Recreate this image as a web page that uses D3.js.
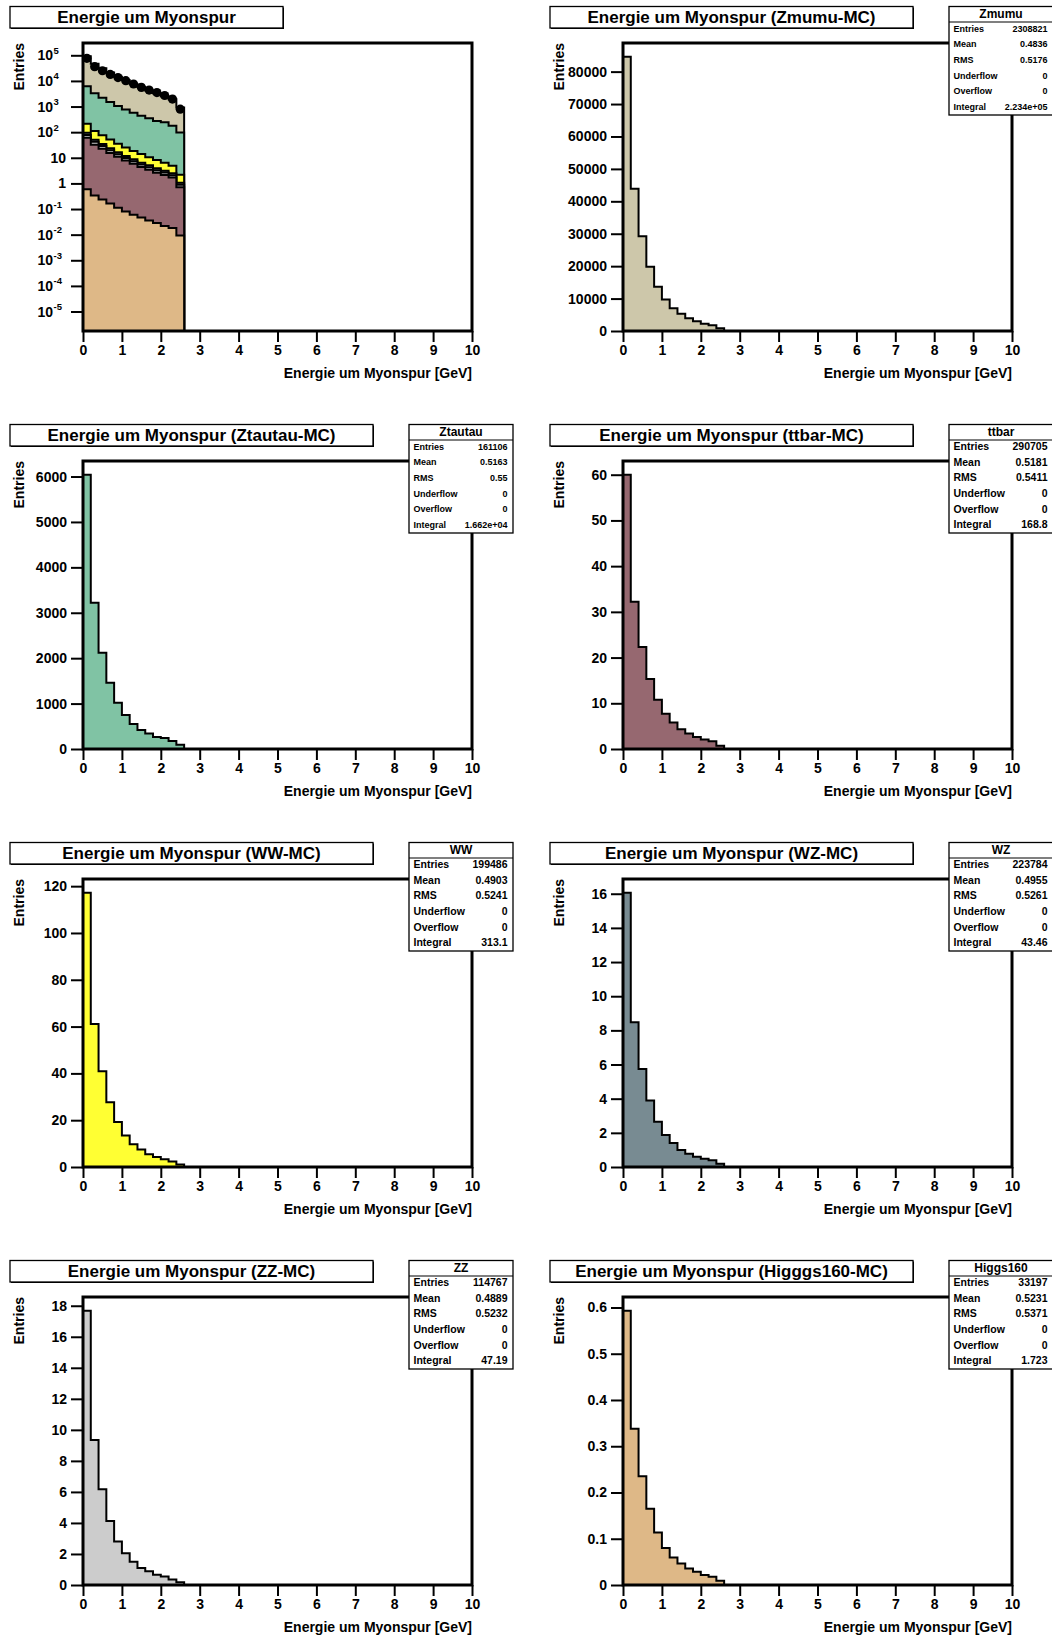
<!DOCTYPE html>
<html><head><meta charset="utf-8">
<script src="https://cdn.jsdelivr.net/npm/d3@7"></script>
<style>
body{margin:0;background:#fff}
svg text{font-family:"Liberation Sans",Arial,Helvetica,sans-serif;font-weight:bold;fill:#000}
</style>
</head><body>
<svg id="c" width="1052" height="1636"></svg>
<script>
// ---------------- data ----------------
const binWidth = 0.2;
const xMin = 0, xMax = 10;
const xTickLabels = ["0","1","2","3","4","5","6","7","8","9","10"];
// bin contents for bins 0-0.2 ... 2.4-2.6 GeV (all later bins are empty)
const zmumu   = [84600, 43900, 29200, 19800, 13650, 9750, 7000, 5350, 3900, 3000, 2270, 1750, 830];
const ztautau = [6040, 3220, 2120, 1460, 1020, 750, 550, 420, 340, 265, 240, 175, 95];
const ttbar   = [60.0, 32.2, 22.3, 15.3, 10.8, 7.7, 5.8, 4.3, 3.4, 2.6, 2.1, 1.7, 0.7];
const ww      = [117.2, 61.1, 40.9, 27.7, 19.2, 13.5, 9.7, 7.5, 5.4, 4.3, 3.3, 2.4, 1.1];
const wz      = [16.06, 8.47, 5.74, 3.89, 2.65, 1.88, 1.40, 1.00, 0.78, 0.60, 0.49, 0.39, 0.19];
const zz      = [17.68, 9.34, 6.17, 4.12, 2.80, 2.05, 1.50, 1.10, 0.88, 0.66, 0.54, 0.36, 0.17];
const higgs   = [0.593, 0.338, 0.235, 0.165, 0.1135, 0.0798, 0.0596, 0.0467, 0.0359, 0.0287, 0.0216, 0.018, 0.0093];
const dataPts = [76000, 36000, 25000, 18000, 13500, 10200, 7600, 5600, 4400, 3500, 2700, 1950, 790];

const statLabels = ["Entries","Mean","RMS","Underflow","Overflow","Integral"];
const statsZmumu   = ["2308821","0.4836","0.5176","0","0","2.234e+05"];
const statsZtautau = ["161106","0.5163","0.55","0","0","1.662e+04"];
const statsTtbar   = ["290705","0.5181","0.5411","0","0","168.8"];
const statsWW      = ["199486","0.4903","0.5241","0","0","313.1"];
const statsWZ      = ["223784","0.4955","0.5261","0","0","43.46"];
const statsZZ      = ["114767","0.4889","0.5232","0","0","47.19"];
const statsHiggs   = ["33197","0.5231","0.5371","0","0","1.723"];

const logTickExps = [-5,-4,-3,-2,-1,0,1,2,3,4,5];

// ---------------- layout / style ----------------
const colors = {zmumu:"#cdc7aa", ztautau:"#80c3a4", ttbar:"#966870", ww:"#ffff33", wz:"#788b92", zz:"#cccccc", higgs:"#deb887"};
const rowOff = [0, 418, 836, 1254];
const colOff = [0, 540];
const FL = 83, FR = 472, FT = 43, FB = 331;

const svg = d3.select("#c");
const nBins = Math.round((xMax - xMin) / binWidth);
const edges = d3.range(nBins + 1).map(i => xMin + i * binWidth);
const pad = v => d3.range(nBins).map(i => i < v.length ? v[i] : 0);

function stepPath(vals, xs, ys, base) {
  const pts = [[xs(xMin), base]];
  vals.forEach((v, i) => { pts.push([xs(edges[i]), ys(v)]); pts.push([xs(edges[i+1]), ys(v)]); });
  pts.push([xs(xMax), base]);
  return d3.line()(pts);
}

function frameAndX(g, ox, oy, xs) {
  // x axis
  const major = d3.range(0, 11).map(i => i);
  const minor = edges;
  const gx = g.append("g").attr("transform", `translate(0,${oy+FB})`);
  gx.call(d3.axisBottom(xs).tickValues(minor).tickSize(5).tickFormat(""));
  gx.call(d3.axisBottom(xs).tickValues(major).tickSize(11).tickPadding(3).tickFormat((d,i) => xTickLabels[i]));
  gx.selectAll(".domain").remove();
  gx.selectAll("line").attr("stroke", "#000").attr("stroke-width", 2);
  gx.selectAll("text").attr("font-size", 14).attr("font-family", null);
  gx.attr("font-family", null);
  // x title
  g.append("text").attr("x", ox+FR).attr("y", oy+378).attr("text-anchor","end")
    .attr("font-size", 14).text("Energie um Myonspur [GeV]");
  // y title
  g.append("text").attr("transform", `translate(${ox+24},${oy+FT}) rotate(-90)`)
    .attr("text-anchor","end").attr("font-size", 14).text("Entries");
}

function drawFrame(g, ox, oy) {
  g.append("rect").attr("x", ox+FL).attr("y", oy+FT).attr("width", FR-FL).attr("height", FB-FT)
    .attr("fill","none").attr("stroke","#000").attr("stroke-width",3);
}

function titleBox(g, ox, oy, text, w) {
  g.append("rect").attr("x", ox+11).attr("y", oy+7.5).attr("width", w).attr("height", 21.5).attr("fill","#000");
  g.append("rect").attr("x", ox+10).attr("y", oy+6.5).attr("width", w).attr("height", 21.5)
    .attr("fill","#fff").attr("stroke","#000").attr("stroke-width",1.3);
  g.append("text").attr("x", ox+10+w/2).attr("y", oy+23.3).attr("text-anchor","middle")
    .attr("font-size", 17).text(text);
}

function statsBox(g, ox, oy, name, vals, fs) {
  const bx = ox+409, by = oy+6.5, bw = 104, bh = 108.5;
  g.append("rect").attr("x", bx).attr("y", by).attr("width", bw).attr("height", bh)
    .attr("fill","#fff").attr("stroke","#000").attr("stroke-width",1.3);
  g.append("line").attr("x1", bx).attr("x2", bx+bw).attr("y1", by+15.5).attr("y2", by+15.5)
    .attr("stroke","#000").attr("stroke-width",1.2);
  g.append("text").attr("x", bx+bw/2).attr("y", by+7.5+4.3).attr("text-anchor","middle")
    .attr("font-size", 12).text(name);
  statLabels.forEach((lab, i) => {
    const cy = by + 22 + i*15.6;
    g.append("text").attr("x", bx+4.5).attr("y", cy + fs*0.36).attr("font-size", fs).text(lab);
    g.append("text").attr("x", bx+bw-5.5).attr("y", cy + fs*0.36).attr("text-anchor","end")
      .attr("font-size", fs).text(vals[i]);
  });
}

function linearPanel(col, row, values, color, title, name, stats, majorStep, minorStep, fs) {
  const ox = colOff[col], oy = rowOff[row];
  const g = svg.append("g");
  const xs = d3.scaleLinear().domain([xMin, xMax]).range([ox+FL, ox+FR]);
  const ymax = d3.max(values) * 1.05;
  const ys = d3.scaleLinear().domain([0, ymax]).range([oy+FB, oy+FT]);
  g.append("path").attr("d", stepPath(pad(values), xs, ys, ys(0)))
    .attr("fill", color).attr("stroke","#000").attr("stroke-width",2).attr("stroke-linejoin","miter");
  // y axis
  const eps = minorStep*1e-6;
  const majors = d3.range(0, ymax+eps, majorStep);
  const minors = d3.range(0, ymax+eps, minorStep);
  const gy = g.append("g").attr("transform", `translate(${ox+FL},0)`);
  gy.call(d3.axisLeft(ys).tickValues(minors).tickSize(6).tickFormat(""));
  gy.call(d3.axisLeft(ys).tickValues(majors).tickSize(12).tickPadding(4)
    .tickFormat(d => String(+d.toFixed(6))));
  gy.selectAll(".domain").remove();
  gy.selectAll("line").attr("stroke","#000").attr("stroke-width",2);
  gy.selectAll("text").attr("font-size",14);
  gy.attr("font-family", null);
  frameAndX(g, ox, oy, xs);
  drawFrame(g, ox, oy);
  titleBox(g, ox, oy, title, 363);
  statsBox(g, ox, oy, name, stats, fs);
}

function logPanel() {
  const ox = colOff[0], oy = rowOff[0];
  const g = svg.append("g");
  const xs = d3.scaleLinear().domain([xMin, xMax]).range([ox+FL, ox+FR]);
  const yMinV = Math.pow(10, -5.76), yMaxV = Math.pow(10, 5.48);
  const ys = d3.scaleLog().domain([yMinV, yMaxV]).range([oy+FB, oy+FT]);
  const yc = v => ys(Math.max(v, yMinV));
  const keys = ["higgs","ttbar","zz","wz","ww","ztautau","zmumu"];
  const series = {higgs, ttbar, zz, wz, ww, ztautau, zmumu};
  const rows = d3.range(nBins).map(i => {
    const r = {}; keys.forEach(k => r[k] = i < series[k].length ? series[k][i] : 0); return r;
  });
  const layers = d3.stack().keys(keys)(rows);
  layers.slice().reverse().forEach(L => {
    const tops = L.map(d => d[1]);
    g.append("path").attr("d", stepPath(tops, xs, yc, ys(yMinV)))
      .attr("fill", colors[L.key]).attr("stroke","#000").attr("stroke-width",2);
  });
  // data points
  g.selectAll("circle.d").data(dataPts).enter().append("circle")
    .attr("cx", (d,i) => xs((edges[i]+edges[i+1])/2)).attr("cy", d => ys(d)).attr("r", 4.6).attr("fill","#000");
  // log y axis
  const majors = logTickExps.map(e => Math.pow(10, e));
  const minors = [];
  for (let e = -6; e <= 5; e++) for (let m = 2; m <= 9; m++) {
    const v = m * Math.pow(10, e); if (v > yMinV && v < yMaxV) minors.push(v);
  }
  const gy = g.append("g").attr("transform", `translate(${ox+FL},0)`);
  gy.call(d3.axisLeft(ys).tickValues(minors).tickSize(6).tickFormat(""));
  gy.call(d3.axisLeft(ys).tickValues(majors).tickSize(12).tickFormat(""));
  gy.selectAll(".domain").remove();
  gy.selectAll("line").attr("stroke","#000").attr("stroke-width",2);
  logTickExps.forEach(e => {
    const yy = ys(Math.pow(10, e));
    if (e === 0 || e === 1) {
      g.append("text").attr("x", ox+66).attr("y", yy+5).attr("text-anchor","end").attr("font-size",14).text(e === 0 ? "1" : "10");
    } else {
      g.append("text").attr("x", ox+53).attr("y", yy+5).attr("text-anchor","end").attr("font-size",14).text("10");
      g.append("text").attr("x", ox+53.5).attr("y", yy-1.5).attr("text-anchor","start").attr("font-size",9.5).text(String(e).replace("-","-"));
    }
  });
  frameAndX(g, ox, oy, xs);
  drawFrame(g, ox, oy);
  titleBox(g, ox, oy, "Energie um Myonspur", 273);
}

logPanel();
linearPanel(1, 0, zmumu,   colors.zmumu,   "Energie um Myonspur (Zmumu-MC)",    "Zmumu",    statsZmumu,   10000, 2000, 9);
linearPanel(0, 1, ztautau, colors.ztautau, "Energie um Myonspur (Ztautau-MC)",  "Ztautau",  statsZtautau, 1000, 200, 9);
linearPanel(1, 1, ttbar,   colors.ttbar,   "Energie um Myonspur (ttbar-MC)",    "ttbar",    statsTtbar,   10, 2, 10.5);
linearPanel(0, 2, ww,      colors.ww,      "Energie um Myonspur (WW-MC)",       "WW",       statsWW,      20, 5, 10.5);
linearPanel(1, 2, wz,      colors.wz,      "Energie um Myonspur (WZ-MC)",       "WZ",       statsWZ,      2, 0.5, 10.5);
linearPanel(0, 3, zz,      colors.zz,      "Energie um Myonspur (ZZ-MC)",       "ZZ",       statsZZ,      2, 0.5, 10.5);
linearPanel(1, 3, higgs,   colors.higgs,   "Energie um Myonspur (Higggs160-MC)", "Higgs160", statsHiggs,  0.1, 0.02, 10.5);
</script>
</body></html>
